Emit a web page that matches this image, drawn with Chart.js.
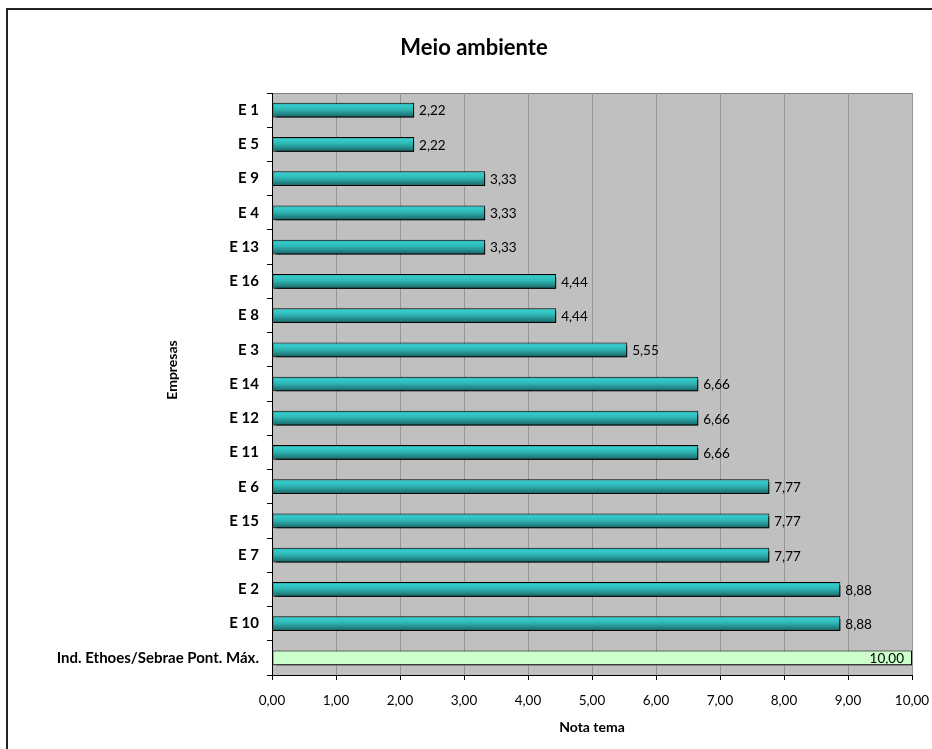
<!DOCTYPE html>
<html>
<head>
<meta charset="utf-8">
<script src="https://cdn.jsdelivr.net/npm/chart.js@4.4.1/dist/chart.umd.min.js"></script>
<style>
  html, body { margin: 0; padding: 0; background: #ffffff; }
  #wrap { width: 932px; height: 749px; position: relative; }
</style>
</head>
<body>
<div id="wrap"><canvas id="c" width="932" height="749"></canvas></div>
<script>
// Companies, top to bottom
const categories = ['E 1', 'E 5', 'E 9', 'E 4', 'E 13', 'E 16', 'E 8', 'E 3', 'E 14', 'E 12',
  'E 11', 'E 6', 'E 15', 'E 7', 'E 2', 'E 10', 'Ind. Ethoes/Sebrae Pont. Máx.'];
// Theme score for each company
const scores = [2.22, 2.22, 3.33, 3.33, 3.33, 4.44, 4.44, 5.55, 6.66, 6.66,
  6.66, 7.77, 7.77, 7.77, 8.88, 8.88, 10.00];
const xTicks = [0, 1, 2, 3, 4, 5, 6, 7, 8, 9, 10];

const FONT = 'Lato, "Open Sans", sans-serif';
const fmt = v => v.toFixed(2).replace('.', ',');
const isReference = i => i === categories.length - 1;

function barFill(ctx) {
  const chart = ctx.chart;
  const i = ctx.dataIndex;
  if (isReference(i)) return '#CCFFCC';
  const ys = chart.scales.y;
  if (!ys || ys.bottom === undefined) return '#2fb5b5';
  const cy = ys.getPixelForValue(i);
  const g = chart.ctx.createLinearGradient(0, cy - 7, 0, cy + 7);
  g.addColorStop(0, '#2a9e9e');
  g.addColorStop(0.15, '#36cccc');
  g.addColorStop(0.45, '#2fb6b6');
  g.addColorStop(1, '#1b6565');
  return g;
}

// Frame, plot background, titles, bar shadows and value labels
const decor = {
  id: 'decor',
  beforeDraw(chart) {
    const c = chart.ctx, a = chart.chartArea;
    c.save();
    c.fillStyle = '#ffffff';
    c.fillRect(0, 0, chart.width, chart.height);
    c.strokeStyle = '#222222';
    c.lineWidth = 2;
    c.strokeRect(7, 9, 1000, 800);
    c.fillStyle = '#C0C0C0';
    c.fillRect(a.left, a.top, a.right - a.left, a.bottom - a.top);
    c.strokeStyle = '#808080';
    c.lineWidth = 1;
    c.beginPath();
    c.moveTo(a.left, a.top + 0.5);
    c.lineTo(a.right, a.top + 0.5);
    c.stroke();
    c.fillStyle = '#000000';
    c.font = 'bold 22px ' + FONT;
    c.textAlign = 'center';
    c.textBaseline = 'alphabetic';
    c.fillText('Meio ambiente', 474, 55);
    c.font = 'bold 14px ' + FONT;
    c.textBaseline = 'middle';
    c.fillText('Nota tema', (a.left + a.right) / 2, 727);
    c.save();
    c.translate(172, 370);
    c.rotate(-Math.PI / 2);
    c.fillText('Empresas', 0, 0);
    c.restore();
    c.restore();
  },
  beforeDatasetsDraw(chart) {
    const c = chart.ctx;
    c.save();
    c.shadowColor = '#000000';
    c.shadowOffsetX = 3;
    c.shadowOffsetY = 3;
    c.shadowBlur = 0;
  },
  afterDatasetsDraw(chart) {
    const c = chart.ctx;
    c.restore();
    const meta = chart.getDatasetMeta(0);
    c.save();
    c.fillStyle = '#000000';
    c.font = '13.5px ' + FONT;
    c.textBaseline = 'middle';
    meta.data.forEach((el, i) => {
      const v = scores[i];
      if (isReference(i)) {
        c.textAlign = 'right';
        c.fillText(fmt(v), el.x - 8, el.y + 1);
      } else {
        c.textAlign = 'left';
        c.fillText(fmt(v), el.x + 5, el.y + 1);
      }
    });
    c.restore();
  }
};

new Chart(document.getElementById('c'), {
  type: 'bar',
  data: {
    labels: categories,
    datasets: [{
      data: scores,
      backgroundColor: barFill,
      borderColor: '#000000',
      borderWidth: 1,
      borderSkipped: false,
      categoryPercentage: 1,
      barPercentage: 0.43
    }]
  },
  plugins: [decor],
  options: {
    indexAxis: 'y',
    responsive: false,
    animation: false,
    devicePixelRatio: 1,
    layout: { padding: { left: 10, right: 20, top: 93, bottom: 34 } },
    plugins: {
      legend: { display: false },
      tooltip: { enabled: false },
      title: { display: false }
    },
    scales: {
      x: {
        min: 0, max: 10,
        afterBuildTicks(s) { s.ticks = xTicks.map(v => ({ value: v })); },
        afterFit(s) { s.height = 40; s.paddingLeft = 0; s.paddingRight = 0; },
        grid: { color: '#969696', tickColor: '#000000', tickLength: 5, drawTicks: true },
        border: { display: true, color: '#000000', width: 1 },
        ticks: {
          color: '#000000', padding: 13, maxRotation: 0,
          font: { family: FONT, size: 13.5 },
          callback: v => fmt(v)
        },
        title: { display: false }
      },
      y: {
        afterFit(s) { s.width = 262; s.paddingTop = 0; s.paddingBottom = 0; },
        grid: { drawOnChartArea: false, offset: true, tickLength: 5, color: '#000000', tickColor: '#000000' },
        border: { display: true, color: '#000000', width: 1 },
        ticks: {
          color: '#000000', padding: 8, autoSkip: false,
          font: { family: FONT, size: 15, weight: 'bold' }
        },
        title: { display: false }
      }
    }
  }
});
</script>
</body>
</html>
